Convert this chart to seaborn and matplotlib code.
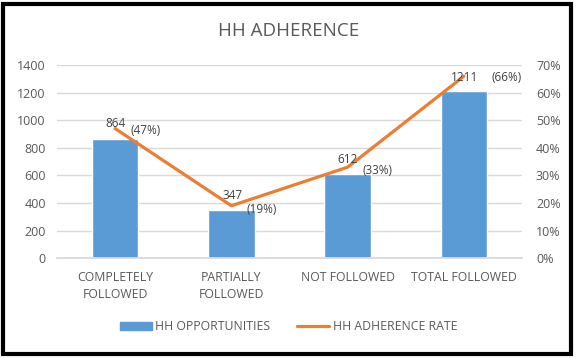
import matplotlib
matplotlib.use("Agg")
import matplotlib.pyplot as plt
import seaborn as sns
import pandas as pd
from matplotlib.patches import Rectangle, Patch
from matplotlib.lines import Line2D

categories = ["COMPLETELY\nFOLLOWED", "PARTIALLY\nFOLLOWED", "NOT FOLLOWED", "TOTAL FOLLOWED"]
opportunities = [864, 347, 612, 1211]
rates = [47, 19, 33, 66]
rate_labels = ["(47%)", "(19%)", "(33%)", "(66%)"]
left_ticks = [0, 200, 400, 600, 800, 1000, 1200, 1400]
right_ticks = [0, 10, 20, 30, 40, 50, 60, 70]

sns.set_theme(style="white")
plt.rcParams['font.family'] = ['Open Sans', 'DejaVu Sans']
gray = "#595959"
label_gray = "#404040"
blue = "#5B9BD5"
orange = "#ED7D31"

df = pd.DataFrame({"cat": categories, "opp": opportunities, "rate": rates})

fig = plt.figure(figsize=(5.77, 3.58), dpi=100)
ax = fig.add_axes([0.0988, 0.279, 0.806, 0.539])
sns.barplot(data=df, x="cat", y="opp", color=blue, width=0.40, ax=ax, saturation=1)
ax.set_ylim(0, 1400)
ax.set_yticks(left_ticks)
ax.set_xlabel("")
ax.set_ylabel("")
ax.yaxis.grid(True, color="#D9D9D9", linewidth=1)
ax.set_axisbelow(True)
for s in ["top", "right", "left"]:
    ax.spines[s].set_visible(False)
ax.spines["bottom"].set_color("#D9D9D9")
ax.tick_params(axis="y", colors=gray, labelsize=9, length=0, pad=8)
ax.tick_params(axis="x", colors=gray, labelsize=8.8, length=0, pad=9)
for t in ax.get_xticklabels():
    t.set_color(gray)
    t.set_linespacing(1.45)

ax2 = ax.twinx()
sns.lineplot(data=df, x="cat", y="rate", color=orange, linewidth=2.3, ax=ax2, sort=False)
ax2.set_ylim(0, 70)
ax2.set_yticks(right_ticks)
ax2.set_yticklabels([f"{v}%" for v in right_ticks])
ax2.set_ylabel("")
ax2.set_xlabel("")
for s in ["top", "right", "left", "bottom"]:
    ax2.spines[s].set_visible(False)
ax2.tick_params(axis="y", colors=gray, labelsize=9, length=0, pad=10)
ax.set_xlim(-0.5, 3.5)
ax2.set_xlim(-0.5, 3.5)

# data labels (offsets in points relative to each line point)
num_offsets = [(0, 3.6), (0.7, 7.2), (0, 5.8), (0.5, -0.7)]
pct_offsets = [(21.6, -1.4), (21.6, -2.4), (21.6, -2.2), (31, -0.7)]
for i, (o, r, lab) in enumerate(zip(opportunities, rates, rate_labels)):
    ax2.annotate(str(o), (i, r), xytext=num_offsets[i], textcoords="offset points",
                 ha="center", va="center", fontsize=8.5, color=label_gray)
    ax2.annotate(lab, (i, r), xytext=pct_offsets[i], textcoords="offset points",
                 ha="center", va="center", fontsize=8.5, color=label_gray)

fig.text(0.5, 0.913, "HH ADHERENCE", ha="center", va="center", fontsize=13.5, color=gray)

handles = [Patch(facecolor=blue, edgecolor=blue), Line2D([0], [0], color=orange, linewidth=2.3)]
fig.legend(handles, ["HH OPPORTUNITIES", "HH ADHERENCE RATE"], loc="center",
           bbox_to_anchor=(0.5, 0.087), ncol=2, frameon=False, fontsize=8.8,
           labelcolor=gray, handlelength=2.6, handleheight=0.6, handletextpad=0.3,
           columnspacing=2.2)

fig.patches.append(Rectangle((0.006, 0.011), 0.984, 0.978, transform=fig.transFigure,
                             fill=False, edgecolor="black", linewidth=3, zorder=10))
fig.savefig("out.png", dpi=100)
